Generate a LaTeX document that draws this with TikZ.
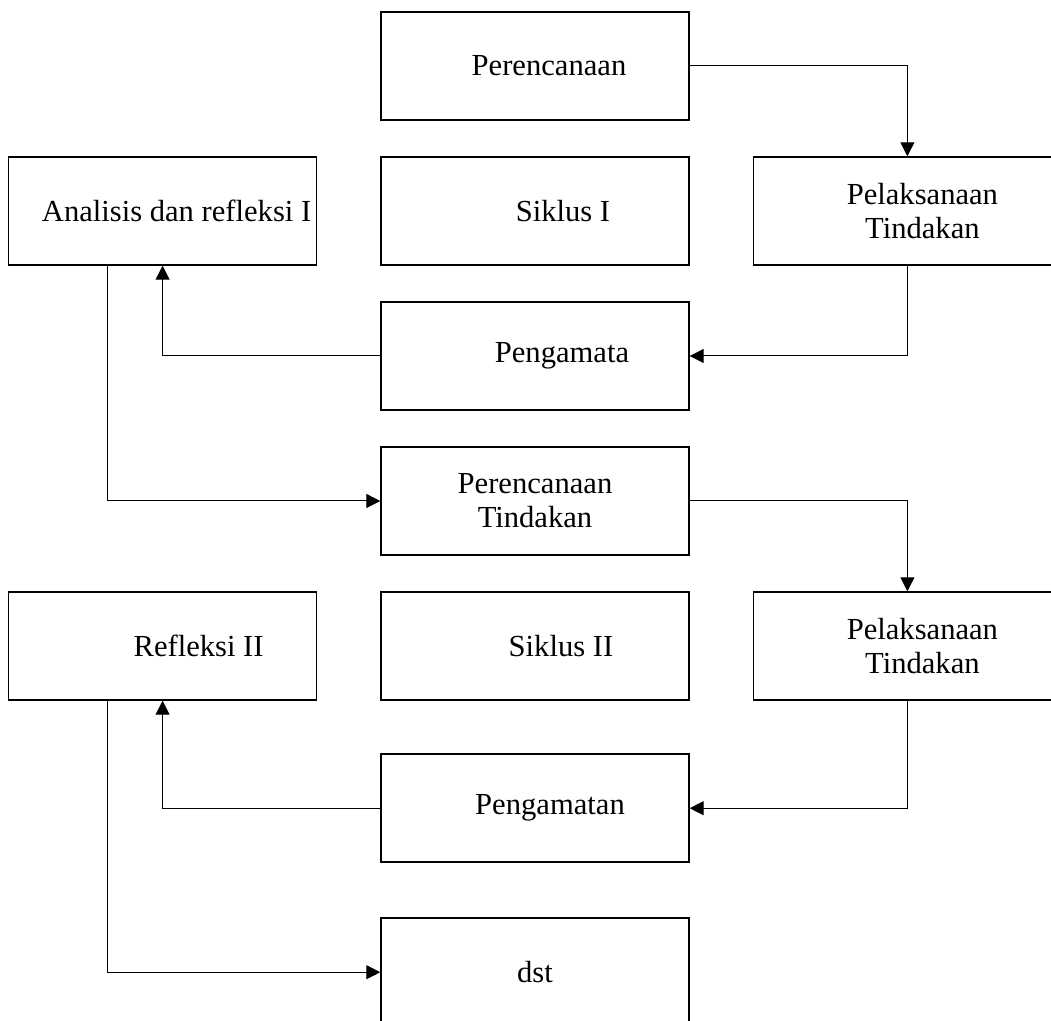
\documentclass[tikz,border=0pt]{standalone}
\usepackage{fontspec}
\setmainfont{Liberation Serif}
\usetikzlibrary{arrows.meta,positioning}
\newcommand{\pad}[1]{\hspace*{#1pt}}

\begin{document}
\begin{tikzpicture}[
    node distance=17.8pt and 31.5pt,
    box/.style={rectangle, draw, line width=0.7pt,
                minimum width=154pt, minimum height=54pt,
                inner sep=2pt, align=center,
                font=\fontsize{15.3}{17}\selectfont},
    arr/.style={-{Triangle[length=7pt, width=7pt]}, line width=0.5pt}
]
\useasboundingbox (0,0) rectangle (525.5pt,-510.5pt);

% Siklus I
\node[box] (per1) at (267.5pt,-33pt) {\pad{14}Perencanaan};
\node[box, below=of per1] (sik1) {\pad{28}Siklus I};
\node[box, left=of sik1]  (ana1) {\pad{14}Analisis dan refleksi I};
\node[box, right=of sik1] (pel1) {\pad{15}Pelaksanaan\\\pad{15}Tindakan};
\node[box, below=of sik1] (pen1) {\pad{27}Pengamata};

% Siklus II
\node[box, below=of pen1] (per2) {Perencanaan\\Tindakan};
\node[box, below=of per2] (sik2) {\pad{26}Siklus II};
\node[box, left=of sik2]  (ref2) {\pad{36}Refleksi II};
\node[box, right=of sik2] (pel2) {\pad{15}Pelaksanaan\\\pad{15}Tindakan};
\node[box, below=26.4pt of sik2] (pen2) {\pad{15}Pengamatan};
\node[box, below=27.3pt of pen2] (dst) {dst};

\draw[arr] (per1.east) -| (pel1.north);
\draw[arr] (pel1.south) |- (pen1.east);
\draw[arr] (pen1.west) -| (ana1.south);
\draw[arr] ([xshift=-27.5pt]ana1.south) |- (per2.west);
\draw[arr] (per2.east) -| (pel2.north);
\draw[arr] (pel2.south) |- (pen2.east);
\draw[arr] (pen2.west) -| (ref2.south);
\draw[arr] ([xshift=-27.5pt]ref2.south) |- (dst.west);
\end{tikzpicture}
\end{document}
